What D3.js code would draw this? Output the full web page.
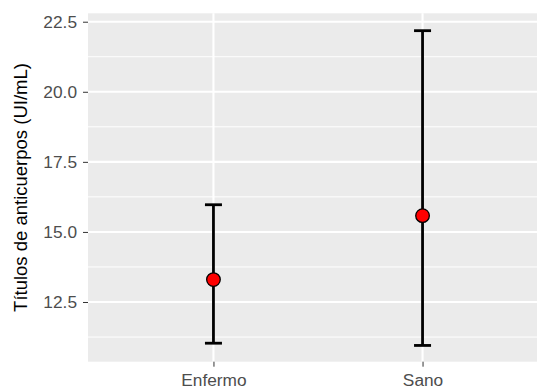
<!DOCTYPE html>
<html>
<head>
<meta charset="utf-8">
<script src="https://cdn.jsdelivr.net/npm/d3@7"></script>
<style>
  body { margin: 0; background: #fff; }
  svg { display: block; font-family: "Liberation Sans", Arial, sans-serif; }
</style>
</head>
<body>
<script>
// data
var categories = ["Enfermo", "Sano"];
var means = [13.3, 15.58];
var lower = [11.03, 10.95];
var upper = [15.97, 22.18];
var yTicks = [12.5, 15.0, 17.5, 20.0, 22.5];
var yMinor = [11.25, 13.75, 16.25, 18.75, 21.25];

var width = 537,
	height = 390;

var panel = { left: 88, right: 548, top: 13.3, bottom: 361.7 };

var svg = d3.select("body")
	.append("svg")
	.attr("width", width)
	.attr("height", height);

var x = d3.scalePoint()
	.domain(categories)
	.range([panel.left, panel.right])
	.padding(0.6);

var y = d3.scaleLinear()
	.domain([10.37, 22.8])
	.range([panel.bottom, panel.top]);

// grey panel
svg.append("rect")
	.attr("x", panel.left)
	.attr("y", panel.top)
	.attr("width", panel.right - panel.left)
	.attr("height", panel.bottom - panel.top)
	.attr("fill", "#ebebeb");

// grid lines
var grid = svg.append("g");
grid.selectAll(".minor")
	.data(yMinor)
	.enter().append("line")
	.attr("x1", panel.left).attr("x2", panel.right)
	.attr("y1", function(d) { return y(d); })
	.attr("y2", function(d) { return y(d); })
	.attr("stroke", "#fff")
	.attr("stroke-width", 1);
grid.selectAll(".major")
	.data(yTicks)
	.enter().append("line")
	.attr("x1", panel.left).attr("x2", panel.right)
	.attr("y1", function(d) { return y(d); })
	.attr("y2", function(d) { return y(d); })
	.attr("stroke", "#fff")
	.attr("stroke-width", 2.1);
grid.selectAll(".vmajor")
	.data(categories)
	.enter().append("line")
	.attr("y1", panel.top).attr("y2", panel.bottom)
	.attr("x1", function(d) { return x(d); })
	.attr("x2", function(d) { return x(d); })
	.attr("stroke", "#fff")
	.attr("stroke-width", 2.1);

// axes
var yAxis = svg.append("g")
	.attr("transform", "translate(" + panel.left + ",0)")
	.call(d3.axisLeft(y).tickValues(yTicks).tickFormat(d3.format(".1f")).tickSize(5).tickPadding(6));
var xAxis = svg.append("g")
	.attr("transform", "translate(0," + panel.bottom + ")")
	.call(d3.axisBottom(x).tickSize(5).tickPadding(5));

[yAxis, xAxis].forEach(function(ax) {
	ax.select(".domain").remove();
	ax.selectAll(".tick line").attr("stroke", "#333").attr("stroke-width", 1);
	ax.selectAll(".tick text")
		.attr("fill", "#4d4d4d")
		.style("font-size", "17.3px");
});
xAxis.selectAll(".tick text").attr("dy", "0.8em");

// y axis title
svg.append("text")
	.attr("transform", "translate(27," + ((panel.top + panel.bottom) / 2) + ") rotate(-90)")
	.attr("text-anchor", "middle")
	.attr("fill", "#000")
	.style("font-size", "18.5px")
	.text("Títulos de anticuerpos (UI/mL)");

// error bars
var bars = svg.append("g")
	.selectAll("g")
	.data(categories)
	.enter().append("g");

bars.append("line")
	.attr("x1", function(d) { return x(d); })
	.attr("x2", function(d) { return x(d); })
	.attr("y1", function(d, i) { return y(lower[i]); })
	.attr("y2", function(d, i) { return y(upper[i]); })
	.attr("stroke", "#000")
	.attr("stroke-width", 2.8);
bars.append("line")
	.attr("x1", function(d) { return x(d) - 8.5; })
	.attr("x2", function(d) { return x(d) + 8.5; })
	.attr("y1", function(d, i) { return y(upper[i]); })
	.attr("y2", function(d, i) { return y(upper[i]); })
	.attr("stroke", "#000")
	.attr("stroke-width", 2.8);
bars.append("line")
	.attr("x1", function(d) { return x(d) - 8.5; })
	.attr("x2", function(d) { return x(d) + 8.5; })
	.attr("y1", function(d, i) { return y(lower[i]); })
	.attr("y2", function(d, i) { return y(lower[i]); })
	.attr("stroke", "#000")
	.attr("stroke-width", 2.8);

// mean points
bars.append("circle")
	.attr("cx", function(d) { return x(d); })
	.attr("cy", function(d, i) { return y(means[i]); })
	.attr("r", 6.8)
	.attr("fill", "#ff0000")
	.attr("stroke", "#000")
	.attr("stroke-width", 1.3);
</script>
</body>
</html>
